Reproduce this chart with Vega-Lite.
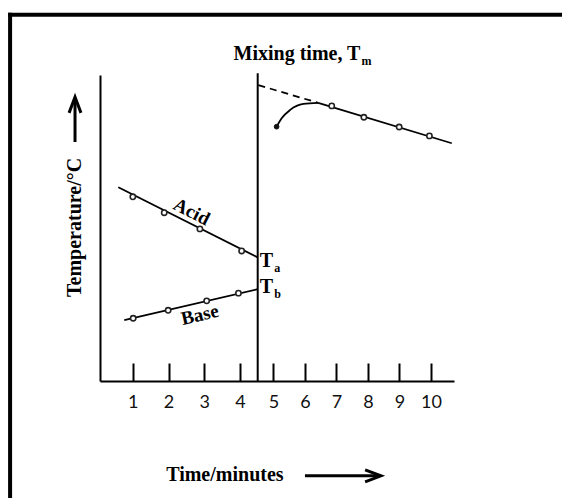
{
  "$schema": "https://vega.github.io/schema/vega-lite/v6.json",
  "width": 354,
  "height": 306,
  "autosize": {"type": "none"},
  "padding": {"left": 100, "top": 75, "right": 108, "bottom": 117},
  "background": "white",
  "config": {"view": {"stroke": null}},
  "datasets": {
    "border": [
      {"x": -2.44, "y": 119.7, "x2": 15, "y2": 119.7},
      {"x": -2.44, "y": 119.7, "x2": -2.44, "y2": -45}
    ],
    "mixing": [{"x": 4.5, "y": 0, "x2": 4.5, "y2": 100.6}],
    "lines": [
      {"series": "acid", "x": 0.593, "y": 63.3},
      {"series": "acid", "x": 4.5, "y": 40.4},
      {"series": "base", "x": 0.76, "y": 19.9},
      {"series": "base", "x": 4.5, "y": 30.0},
      {"series": "after", "x": 6.42, "y": 90.9},
      {"series": "after", "x": 10.66, "y": 77.7},
      {"series": "curve", "x": 5.1, "y": 83.1},
      {"series": "curve", "x": 5.26, "y": 85.85},
      {"series": "curve", "x": 5.53, "y": 88.6},
      {"series": "curve", "x": 5.95, "y": 90.55},
      {"series": "curve", "x": 6.42, "y": 90.9}
    ],
    "dashed": [
      {"x": 4.52, "y": 96.7},
      {"x": 6.42, "y": 90.9}
    ],
    "points": [
      {"series": "acid", "x": 1.0, "y": 60.2},
      {"series": "acid", "x": 1.88, "y": 55.0},
      {"series": "acid", "x": 2.88, "y": 49.7},
      {"series": "acid", "x": 4.05, "y": 42.5},
      {"series": "base", "x": 1.01, "y": 20.5},
      {"series": "base", "x": 1.99, "y": 23.1},
      {"series": "base", "x": 3.07, "y": 26.2},
      {"series": "base", "x": 3.96, "y": 28.7},
      {"series": "after", "x": 6.85, "y": 89.9},
      {"series": "after", "x": 7.87, "y": 86.2},
      {"series": "after", "x": 8.99, "y": 83.0},
      {"series": "after", "x": 9.95, "y": 80.1}
    ],
    "curveStart": [{"x": 5.1, "y": 83.1}],
    "lineLabels": [
      {"text": "Acid", "x": 2.65, "y": 55.3},
      {"text": "Base", "x": 2.88, "y": 21.6}
    ],
    "tLabels": [
      {"text": "T", "sub": "a", "x": 4.99, "y": 37.35},
      {"text": "T", "sub": "b", "x": 4.99, "y": 28.66},
      {"text": "Mixing time, T", "sub": "m", "x": 7.76, "y": 104.9}
    ],
    "xTitle": [{"text": "Time/minutes", "x": 3.58, "y": -32.6}],
    "yTitle": [{"text": "Temperature/°C", "x": -0.62, "y": 50.2}],
    "arrowShafts": [
      {"x": 6.0, "y": -31.0, "x2": 8.38, "y2": -31.0},
      {"x": -0.62, "y": 78.1, "x2": -0.62, "y2": 91.8}
    ],
    "arrowHeads": [
      {"dir": "right", "x": 8.16, "y": -31.0},
      {"dir": "up", "x": -0.62, "y": 90.2}
    ]
  },
  "encoding": {
    "x": {
      "field": "x",
      "type": "quantitative",
      "scale": {"domain": [0.08, 4.5, 10.73], "range": [0, 157.7, 354], "zero": false, "nice": false},
      "axis": {
        "values": [1, 2, 3, 4, 5, 6, 7, 8, 9, 10],
        "title": null,
        "grid": false,
        "tickSize": -18,
        "tickWidth": 2,
        "tickColor": "black",
        "domainColor": "black",
        "domainWidth": 2,
        "labelFont": "Lato",
        "labelFontSize": 18,
        "labelColor": "#111",
        "labelPadding": 30,
        "labelFlush": false,
        "labelOverlap": false
      }
    },
    "y": {
      "field": "y",
      "type": "quantitative",
      "scale": {"domain": [0, 100], "zero": false, "nice": false},
      "axis": {
        "title": null,
        "grid": false,
        "ticks": false,
        "labels": false,
        "domainColor": "black",
        "domainWidth": 2
      }
    }
  },
  "layer": [
    {
      "data": {"name": "border"},
      "mark": {"type": "rule", "color": "black", "strokeWidth": 4, "strokeCap": "square", "clip": false},
      "encoding": {"x2": {"field": "x2"}, "y2": {"field": "y2"}}
    },
    {
      "data": {"name": "mixing"},
      "mark": {"type": "rule", "color": "black", "strokeWidth": 2, "clip": false},
      "encoding": {"x2": {"field": "x2"}, "y2": {"field": "y2"}}
    },
    {
      "data": {"name": "lines"},
      "mark": {"type": "line", "color": "black", "strokeWidth": 1.8, "interpolate": "monotone", "clip": false},
      "encoding": {"detail": {"field": "series"}}
    },
    {
      "data": {"name": "dashed"},
      "mark": {"type": "line", "color": "black", "strokeWidth": 1.8, "strokeDash": [7, 5], "clip": false},
      "encoding": {}
    },
    {
      "data": {"name": "points"},
      "mark": {"type": "point", "shape": "circle", "filled": true, "fill": "white", "stroke": "#222", "strokeWidth": 1.6, "size": 28, "opacity": 1},
      "encoding": {}
    },
    {
      "data": {"name": "curveStart"},
      "mark": {"type": "point", "shape": "circle", "filled": true, "fill": "#111", "stroke": "#111", "strokeWidth": 1, "size": 22, "opacity": 1},
      "encoding": {}
    },
    {
      "data": {"name": "lineLabels"},
      "transform": [{"filter": "datum.text === 'Acid'"}],
      "mark": {"type": "text", "font": "Liberation Serif", "fontWeight": "bold", "fontSize": 19, "angle": 27, "align": "center", "baseline": "middle", "color": "black"},
      "encoding": {"text": {"field": "text"}}
    },
    {
      "data": {"name": "lineLabels"},
      "transform": [{"filter": "datum.text === 'Base'"}],
      "mark": {"type": "text", "font": "Liberation Serif", "fontWeight": "bold", "fontSize": 19, "angle": 347, "align": "center", "baseline": "middle", "color": "black"},
      "encoding": {"text": {"field": "text"}}
    },
    {
      "data": {"name": "tLabels"},
      "mark": {"type": "text", "font": "Liberation Serif", "fontWeight": "bold", "fontSize": 20, "align": "right", "baseline": "alphabetic", "color": "black", "clip": false},
      "encoding": {"text": {"field": "text"}}
    },
    {
      "data": {"name": "tLabels"},
      "mark": {"type": "text", "font": "Liberation Serif", "fontWeight": "bold", "fontSize": 12, "align": "left", "baseline": "alphabetic", "dx": 1, "dy": 5, "color": "black", "clip": false},
      "encoding": {"text": {"field": "sub"}}
    },
    {
      "data": {"name": "xTitle"},
      "mark": {"type": "text", "font": "Liberation Serif", "fontWeight": "bold", "fontSize": 20, "align": "center", "baseline": "alphabetic", "color": "black", "clip": false},
      "encoding": {"text": {"field": "text"}}
    },
    {
      "data": {"name": "yTitle"},
      "mark": {"type": "text", "font": "Liberation Serif", "fontWeight": "bold", "fontSize": 20, "angle": 270, "align": "center", "baseline": "middle", "color": "black", "clip": false},
      "encoding": {"text": {"field": "text"}}
    },
    {
      "data": {"name": "arrowShafts"},
      "mark": {"type": "rule", "color": "black", "strokeWidth": 3, "clip": false},
      "encoding": {"x2": {"field": "x2"}, "y2": {"field": "y2"}}
    },
    {
      "data": {"name": "arrowHeads"},
      "mark": {"type": "point", "filled": false, "stroke": "black", "strokeWidth": 3, "strokeJoin": "miter", "size": 250, "opacity": 1, "clip": false},
      "encoding": {
        "shape": {
          "field": "dir",
          "type": "nominal",
          "scale": {"domain": ["right", "up"], "range": ["M -1 -0.75 L 1 0 L -1 0.75", "M -0.75 1 L 0 -1 L 0.75 1"]},
          "legend": null
        }
      }
    }
  ]
}
